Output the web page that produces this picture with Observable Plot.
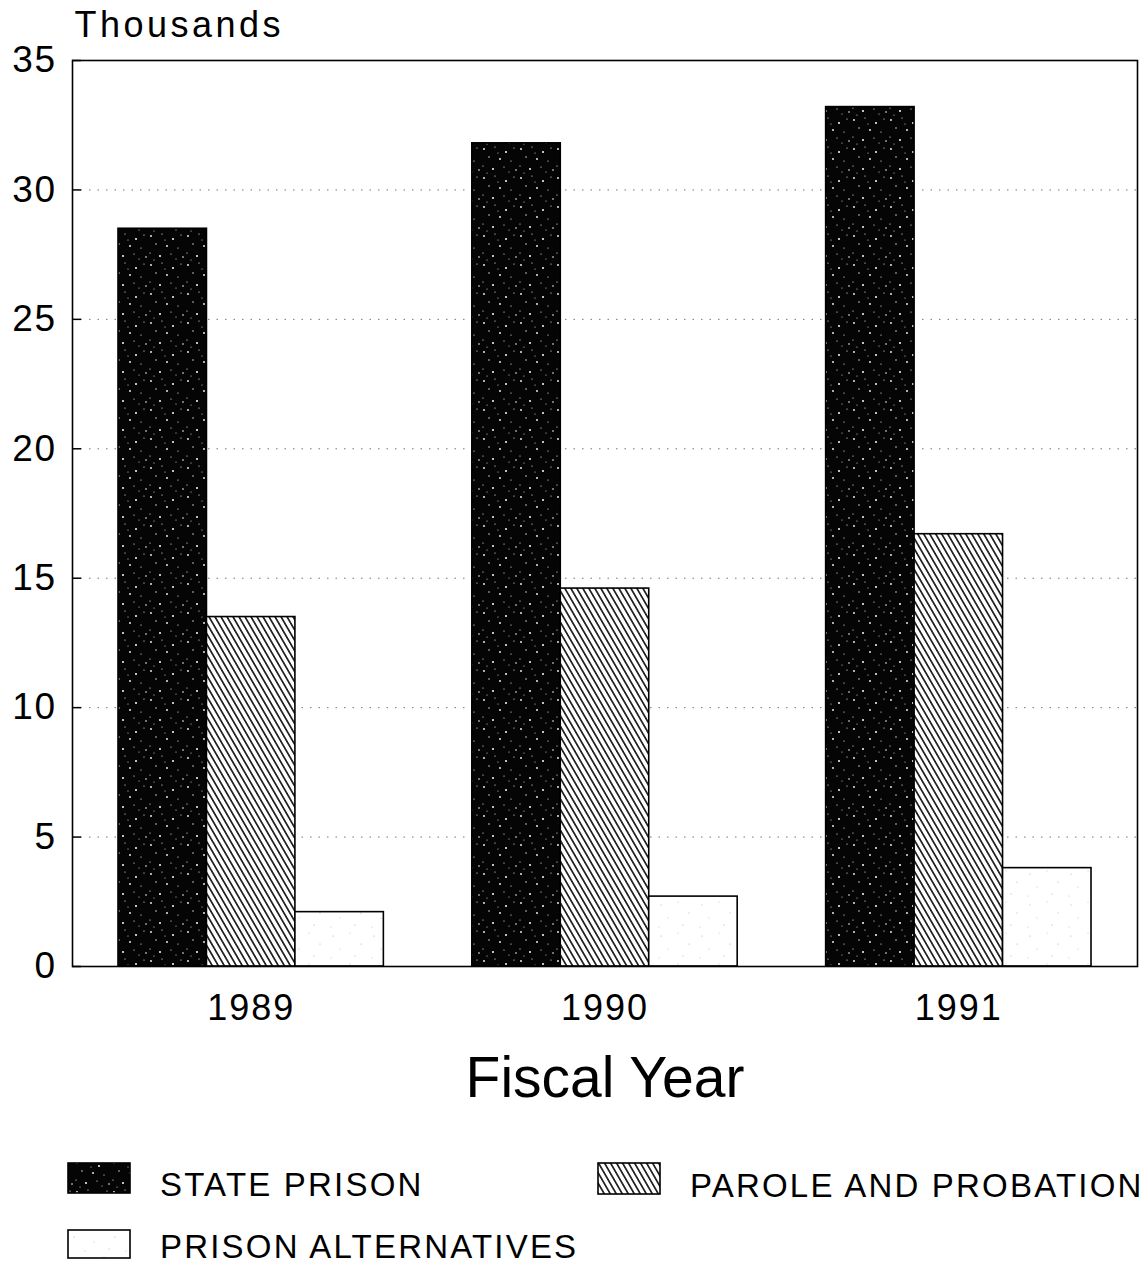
<!DOCTYPE html>
<html><head><meta charset="utf-8">
<script src="https://cdn.jsdelivr.net/npm/d3@7"></script>
<script src="https://cdn.jsdelivr.net/npm/@observablehq/plot@0.6"></script>
<style>
body{margin:0;background:#fff;font-family:"Liberation Sans",Arial,sans-serif;color:#000;}
#wrap{position:relative;width:1143px;height:1265px;overflow:hidden;}
#legend{position:absolute;left:0;top:1130px;}
</style></head><body>
<svg width="0" height="0" style="position:absolute">
  <defs>
    <pattern id="dots" patternUnits="userSpaceOnUse" width="37" height="29">
      <rect width="37" height="29" fill="#050505"/>
      <circle cx="3" cy="4" r="0.9" fill="#fff"/>
      <circle cx="14" cy="2" r="0.6" fill="#fff"/>
      <circle cx="25" cy="7" r="1" fill="#fff"/>
      <circle cx="33" cy="3" r="0.6" fill="#fff"/>
      <circle cx="8" cy="12" r="0.7" fill="#fff"/>
      <circle cx="19" cy="14" r="0.9" fill="#fff"/>
      <circle cx="30" cy="16" r="0.6" fill="#fff"/>
      <circle cx="2" cy="21" r="0.6" fill="#fff"/>
      <circle cx="12" cy="24" r="1" fill="#fff"/>
      <circle cx="23" cy="22" r="0.6" fill="#fff"/>
      <circle cx="35" cy="25" r="0.8" fill="#fff"/>
      <circle cx="28" cy="27" r="0.5" fill="#fff"/>
      <circle cx="17" cy="8" r="0.5" fill="#fff"/>
      <circle cx="6" cy="28" r="0.5" fill="#fff"/>
    </pattern>
    <pattern id="hatch" patternUnits="userSpaceOnUse" width="5.2" height="12" patternTransform="rotate(-30)">
      <rect width="5.2" height="12" fill="#fff"/>
      <line x1="2.6" y1="0" x2="2.6" y2="12" stroke="#000" stroke-width="1.5"/>
    </pattern>
    <pattern id="light" patternUnits="userSpaceOnUse" width="41" height="31">
      <rect width="41" height="31" fill="#fff"/>
      <circle cx="5" cy="6" r="0.6" fill="#aaa"/>
      <circle cx="22" cy="3" r="0.5" fill="#bbb"/>
      <circle cx="33" cy="14" r="0.6" fill="#aaa"/>
      <circle cx="12" cy="19" r="0.5" fill="#bbb"/>
      <circle cx="27" cy="26" r="0.6" fill="#aaa"/>
      <circle cx="3" cy="28" r="0.5" fill="#bbb"/>
    </pattern>
  </defs>
</svg>
<div id="wrap"></div>
<script>
const years = ["1989", "1990", "1991"];
const series = ["STATE PRISON", "PAROLE AND PROBATION", "PRISON ALTERNATIVES"];
const statePrison = [28.5, 31.8, 33.2];
const paroleProbation = [13.5, 14.6, 16.7];
const prisonAlternatives = [2.1, 2.7, 3.8];
const yTicks = [0, 5, 10, 15, 20, 25, 30, 35];
const fills = ["url(#dots)", "url(#hatch)", "url(#light)"];

const values = [statePrison, paroleProbation, prisonAlternatives];
const data = years.flatMap((yr, i) => series.map((s, k) => ({year: yr, series: s, value: values[k][i]})));

const W = 1143, H = 1130, mL = 72, mR = 6, mT = 60, mB = 164;
const pIn = 0.25, pOut = 0.13;
const bw = d3.scaleBand().domain(years).range([mL, W - mR]).paddingInner(pIn).paddingOuter(pOut).bandwidth();

const barMarks = series.map((s, k) => Plot.barY(data.filter(d => d.series === s), {
  x: "year", y: "value", fill: fills[k], stroke: "black", strokeWidth: 1.6,
  insetLeft: k * bw / 3, insetRight: (2 - k) * bw / 3
}));

const chart = Plot.plot({
  width: W, height: H,
  marginTop: mT, marginBottom: mB, marginLeft: mL, marginRight: mR,
  style: {fontFamily: "'Liberation Sans', Arial, sans-serif", background: "white", color: "black", overflow: "visible"},
  x: {domain: years, paddingInner: pIn, paddingOuter: pOut, round: false, label: null},
  y: {domain: [0, 35], label: null},
  marks: [
    Plot.gridY(yTicks, {stroke: "#777", strokeOpacity: 1, strokeDasharray: "1.5,7", strokeWidth: 1}),
    ...barMarks,
    Plot.frame({stroke: "black", strokeWidth: 1.6}),
    Plot.axisY(yTicks, {tickSize: 0, tickPadding: 16, fontSize: 37, label: null}),
    Plot.axisY(yTicks, {text: null, tickSize: -9, strokeWidth: 1.5, label: null}),
    Plot.axisX({tickSize: 0, tickPadding: 28, fontSize: 36, label: null}),
    Plot.text(["Fiscal Year"], {frameAnchor: "bottom", dy: 130, fontSize: 57}),
    Plot.text(["Thousands"], {frameAnchor: "top-left", dx: 2, dy: -49, textAnchor: "start", fontSize: 36})
  ]
});
d3.select(chart).selectAll("g[aria-label='y-axis tick label'] text").style("letter-spacing", "1.5px");
d3.select(chart).selectAll("g[aria-label='x-axis tick label'] text").style("letter-spacing", "2px");
d3.select(chart).selectAll("text").filter(function(){ return this.textContent === "Thousands"; }).style("letter-spacing", "3.5px");
document.getElementById("wrap").appendChild(chart);

// legend
const leg = d3.select("#wrap").append("svg").attr("id", "legend").attr("width", W).attr("height", 135)
  .style("font-family", "'Liberation Sans', Arial, sans-serif");
const items = [
  {sx: 68, sy: 33, sh: 30, tx: 160, ty: 66},
  {sx: 598, sy: 33, sh: 31, tx: 690, ty: 67},
  {sx: 68, sy: 100, sh: 28, tx: 160, ty: 128}
];
items.forEach((it, k) => {
  leg.append("rect").attr("x", it.sx).attr("y", it.sy).attr("width", 62).attr("height", it.sh)
    .attr("fill", fills[k]).attr("stroke", "black").attr("stroke-width", 1.6);
  leg.append("text").attr("x", it.tx).attr("y", it.ty).attr("font-size", 33)
    .style("letter-spacing", "2.2px").attr("fill", "black").text(series[k]);
});
</script>
</body></html>
